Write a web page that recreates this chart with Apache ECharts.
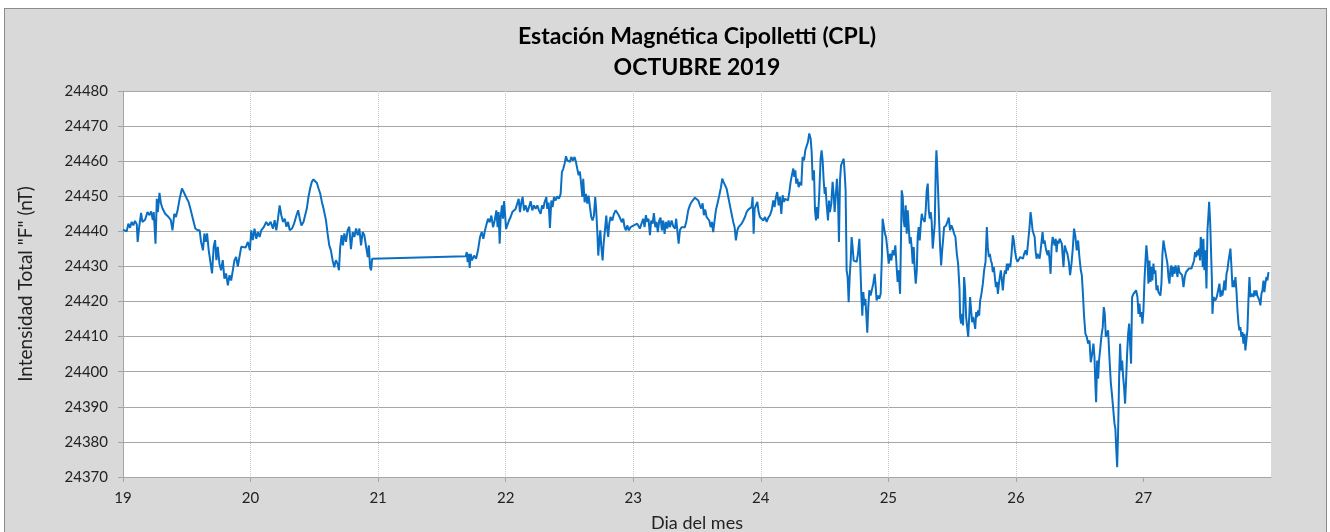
<!DOCTYPE html>
<html><head><meta charset="utf-8">
<script src="https://cdn.jsdelivr.net/npm/echarts@6/dist/echarts.min.js"></script>
<style>
html,body{margin:0;padding:0;background:#fff;}
#frame{position:absolute;left:4px;top:8px;width:1321px;height:540px;background:#d9d9d9;border:1px solid #8c8c8c;}
#c{position:absolute;left:0;top:0;width:1330px;height:532px;}
</style>
</head><body><div id="frame"></div><div id="c"></div>
<script>
const tituloLinea1 = 'Estación Magnética Cipolletti (CPL)';
const tituloLinea2 = 'OCTUBRE 2019';
const etiquetaY = 'Intensidad Total "F" (nT)';
const etiquetaX = 'Dia del mes';
const diasEje = [19, 20, 21, 22, 23, 24, 25, 26, 27];

const dia = [
19.000,19.029,19.042,19.055,19.068,19.081,19.094,19.108,19.115,19.126,19.142,19.152,19.173,19.192,19.207,19.220,19.234,19.241,19.255,19.265,
19.273,19.286,19.297,19.310,19.331,19.357,19.375,19.388,19.402,19.415,19.428,19.444,19.462,19.475,19.488,19.501,19.514,19.528,19.541,19.554,
19.567,19.585,19.601,19.612,19.627,19.638,19.648,19.659,19.672,19.685,19.698,19.711,19.722,19.732,19.743,19.756,19.769,19.782,19.795,19.808,
19.822,19.835,19.848,19.861,19.874,19.887,19.900,19.913,19.927,19.942,19.961,19.979,19.995,20.005,20.018,20.031,20.045,20.058,20.071,20.084,
20.105,20.123,20.139,20.157,20.176,20.189,20.202,20.215,20.228,20.241,20.255,20.268,20.281,20.294,20.307,20.325,20.341,20.360,20.373,20.386,
20.399,20.415,20.428,20.441,20.454,20.467,20.480,20.493,20.507,20.520,20.533,20.546,20.559,20.572,20.583,20.591,20.604,20.617,20.630,20.643,
20.656,20.669,20.682,20.693,20.703,20.714,20.724,20.735,20.748,20.761,20.774,20.787,20.801,20.814,20.827,20.840,20.853,20.866,20.879,20.892,
20.906,20.919,20.927,20.937,20.945,20.953,
21.687,21.695,21.702,21.710,21.718,21.726,21.736,21.752,21.768,21.783,21.799,21.812,21.825,21.838,21.851,21.862,21.875,21.888,21.901,21.914,
21.927,21.937,21.945,21.953,21.961,21.971,21.979,21.987,21.995,22.003,22.013,22.026,22.039,22.052,22.065,22.078,22.091,22.102,22.112,22.123,
22.133,22.144,22.157,22.170,22.183,22.196,22.209,22.222,22.235,22.248,22.261,22.274,22.285,22.295,22.305,22.319,22.326,22.337,22.347,22.358,
22.368,22.379,22.392,22.405,22.418,22.431,22.441,22.452,22.462,22.473,22.483,22.493,22.504,22.514,22.527,22.540,22.551,22.561,22.572,22.582,
22.593,22.601,22.608,22.619,22.629,22.640,22.650,22.661,22.671,22.681,22.692,22.702,22.710,22.718,22.726,22.734,22.742,22.749,22.760,22.768,
22.778,22.789,22.796,22.804,22.812,22.822,22.836,22.849,22.862,22.875,22.888,22.901,22.911,22.922,22.932,22.943,22.953,22.966,22.979,22.992,
23.005,23.018,23.031,23.044,
23.052,23.065,23.078,23.089,23.099,23.110,23.120,23.131,23.141,23.152,23.162,23.173,23.183,23.193,23.204,23.214,23.225,23.235,23.246,23.256,
23.267,23.277,23.288,23.301,23.314,23.327,23.337,23.348,23.356,23.366,23.379,23.392,23.405,23.418,23.431,23.444,23.458,23.471,23.484,23.497,
23.510,23.523,23.533,23.544,23.554,23.565,23.575,23.586,23.596,23.607,23.617,23.627,23.638,23.648,23.661,23.675,23.688,23.698,23.708,23.719,
23.732,23.745,23.758,23.771,23.784,23.795,23.805,23.816,23.826,23.837,23.850,23.863,23.876,23.889,23.902,23.915,23.928,23.936,23.944,23.952,
23.962,23.973,23.983,23.993,24.007,24.020,24.033,24.046,24.059,24.072,24.085,24.098,24.108,24.119,24.129,24.140,24.150,24.161,24.171,24.182,
24.192,24.203,24.213,24.224,24.234,24.244,24.255,24.263,24.271,24.278,24.286,24.297,24.307,24.318,24.328,24.339,24.349,24.359,24.370,24.380,
24.391,24.399,24.407,24.417,24.425,24.433,24.440,24.448,24.459,24.469,24.477,24.485,24.493,24.501,24.508,24.516,24.527,24.535,24.542,24.553,
24.563,24.571,24.579,24.590,24.597,24.605,24.613,24.621,24.629,24.639,24.650,24.658,24.665,24.673,24.681,24.689,24.697,24.705,24.712,24.720,
24.728,24.739,24.752,24.762,24.773,24.780,24.788,24.796,24.804,24.812,24.820,24.827,24.835,24.843,24.851,24.861,24.872,24.882,24.893,24.901,
24.908,24.919,24.929,24.940,24.950,
24.955,24.966,24.974,24.982,24.992,25.003,25.013,25.024,25.034,25.045,25.055,25.065,25.073,25.081,25.092,25.099,25.105,25.113,25.120,25.128,
25.136,25.144,25.152,25.160,25.168,25.175,25.183,25.191,25.199,25.207,25.215,25.223,25.230,25.238,25.246,25.254,25.262,25.270,25.277,25.285,
25.293,25.301,25.309,25.317,25.325,25.332,25.340,25.348,25.356,25.364,25.372,25.377,25.382,25.390,25.398,25.406,25.414,25.422,25.429,25.437,
25.445,25.453,25.463,25.474,25.484,25.495,25.505,25.516,25.526,25.537,25.547,25.558,25.563,25.571,25.579,25.586,25.594,25.602,25.610,25.618,
25.626,25.634,25.641,25.649,25.657,25.665,25.673,25.681,25.689,25.696,25.704,25.712,25.720,25.730,25.741,25.751,25.762,25.772,25.780,25.788,
25.796,25.804,25.812,25.819,25.827,25.835,25.843,25.851,25.859,25.867,25.874,25.882,25.890,25.898,25.906,25.914,25.922,25.929,25.937,25.945,
25.956,25.966,25.976,25.984,25.992,26.003,26.013,26.024,26.034,26.045,26.055,26.065,26.076,26.086,26.097,26.107,26.115,26.123,26.131,26.139,
26.147,26.154,26.162,26.170,26.178,26.186,26.194,26.202,26.209,26.217,26.225,26.233,26.241,26.249,26.257,26.264,26.272,26.280,26.288,26.296,
26.304,26.312,26.319,26.327,26.335,26.343,
26.360,26.373,26.383,26.394,26.404,26.415,26.425,26.436,26.446,26.456,26.467,26.477,26.488,26.498,26.509,26.517,26.524,26.535,26.545,26.556,
26.566,26.577,26.587,26.598,26.608,26.616,26.624,26.629,26.637,26.645,26.652,26.660,26.671,26.681,26.689,26.697,26.705,26.713,26.723,26.733,
26.744,26.754,26.765,26.773,26.780,26.786,26.794,26.801,26.809,26.817,26.825,26.833,26.841,26.848,26.856,26.864,26.872,26.880,26.888,26.895,
26.903,26.911,26.922,26.932,26.942,26.953,26.961,26.969,26.976,26.984,26.992,27.000,27.008,27.016,27.023,27.031,27.039,27.047,27.055,27.063,
27.070,27.078,27.086,27.094,27.102,27.110,27.117,27.125,27.133,27.141,27.149,27.157,27.165,27.172,27.180,27.188,27.196,27.204,27.212,27.219,
27.227,27.235,27.243,27.251,27.259,27.267,27.274,27.282,27.293,27.303,27.314,27.324,27.334,27.345,27.355,27.366,27.376,27.387,27.397,27.405,
27.413,27.421,27.429,27.436,27.444,27.449,27.457,27.465,27.470,27.478,27.486,27.494,27.502,27.510,27.515,27.523,27.531,27.536,27.541,27.549,
27.557,27.564,27.575,27.585,27.596,27.604,27.611,27.619,27.627,27.635,27.643,27.651,27.658,27.666,27.674,27.682,27.690,27.698,27.705,27.713,
27.721,27.729,27.737,27.745,27.752,27.760,27.768,27.776,27.784,27.792,27.799,27.807,27.815,27.823,27.831,27.839,27.846,27.854,27.862,27.870,
27.878,27.886,27.893,27.901,27.909,27.917,27.925,27.933,27.941,27.948,27.956,27.964,27.972,27.980
];

const campoF = [
24440.5,24440.0,24442.2,24441.0,24442.7,24441.7,24443.0,24442.0,24437.0,24441.0,24445.3,24442.7,24443.3,24445.5,24444.6,24445.7,24443.2,24445.5,24436.5,24449.3,
24445.5,24451.0,24448.0,24446.5,24445.0,24444.1,24443.2,24440.3,24445.0,24444.1,24446.0,24449.3,24452.2,24451.3,24451.7,24449.3,24448.4,24446.5,24444.6,24442.7,
24440.8,24440.3,24440.3,24437.0,24434.6,24439.4,24437.0,24439.4,24434.6,24431.3,24428.0,24435.6,24437.5,24431.8,24435.6,24430.8,24428.9,24431.8,24426.5,24428.0,
24424.6,24427.5,24426.0,24428.9,24431.8,24432.7,24430.0,24432.7,24435.6,24436.0,24435.4,24437.0,24434.6,24440.3,24437.5,24440.8,24437.9,24439.8,24438.4,24440.3,
24441.3,24442.7,24441.7,24442.7,24440.8,24443.2,24440.3,24443.6,24447.4,24444.6,24442.7,24443.6,24441.3,24442.7,24440.3,24440.8,24442.2,24444.6,24446.0,24443.6,
24441.7,24442.7,24444.6,24446.5,24449.8,24452.2,24454.1,24454.8,24454.6,24453.8,24452.2,24450.8,24448.4,24446.5,24447.0,24443.2,24439.4,24436.0,24434.6,24431.8,
24429.8,24431.8,24430.8,24428.9,24435.6,24438.9,24436.0,24439.4,24437.0,24440.3,24441.3,24434.9,24439.8,24438.4,24440.8,24438.9,24440.8,24436.0,24439.8,24438.9,
24435.6,24432.7,24436.0,24429.8,24428.9,24432.2,
24432.9,24434.1,24431.2,24433.6,24429.6,24433.6,24431.7,24433.1,24432.2,24434.6,24438.4,24439.8,24437.9,24440.3,24442.2,24443.6,24442.6,24444.5,24441.2,24443.1,
24446.0,24441.2,24445.5,24436.5,24444.1,24447.4,24443.6,24448.6,24445.0,24440.7,24441.2,24443.1,24444.1,24445.5,24445.0,24446.4,24446.0,24449.3,24445.5,24448.3,
24449.8,24446.0,24447.4,24445.5,24446.9,24448.6,24446.0,24447.4,24446.4,24447.4,24446.0,24445.0,24447.4,24446.4,24448.3,24449.8,24446.4,24448.2,24441.0,24448.8,
24446.9,24449.8,24448.8,24450.0,24449.3,24450.7,24456.9,24457.9,24459.3,24461.4,24460.2,24460.7,24459.8,24461.2,24460.2,24461.2,24459.8,24457.9,24456.0,24457.0,
24453.1,24449.8,24455.0,24448.3,24450.7,24447.9,24450.2,24446.9,24444.1,24443.1,24444.5,24449.8,24446.0,24440.3,24433.1,24437.4,24440.3,24436.0,24431.7,24436.5,
24440.3,24444.5,24440.7,24438.4,24442.2,24444.1,24443.1,24445.0,24446.0,24445.5,24444.5,24445.0,24442.6,24443.6,24441.2,24440.3,24441.7,24440.3,24441.2,24440.7,
24441.7,24441.2,24442.2,24441.4,
24440.8,24442.2,24443.6,24441.2,24444.6,24442.7,24443.6,24438.9,24443.1,24442.2,24445.2,24441.2,24442.7,24439.8,24443.1,24443.9,24440.3,24443.1,24439.3,24442.7,
24440.8,24443.1,24441.2,24443.1,24441.4,24440.8,24443.6,24439.3,24436.5,24440.3,24441.2,24440.8,24441.2,24443.1,24446.0,24447.4,24448.4,24448.8,24449.6,24449.8,
24448.8,24447.4,24446.5,24448.0,24444.6,24446.2,24444.1,24444.6,24443.1,24441.2,24442.7,24439.8,24443.1,24446.0,24448.0,24450.3,24452.6,24455.0,24454.1,24453.6,
24452.2,24449.8,24447.4,24445.0,24442.7,24441.2,24437.4,24440.3,24441.2,24441.7,24442.2,24443.1,24444.1,24445.5,24446.2,24446.0,24446.9,24449.8,24439.3,24446.5,
24446.0,24448.4,24445.5,24444.1,24444.6,24443.1,24444.1,24442.7,24443.9,24444.6,24446.0,24448.8,24446.9,24449.8,24451.2,24447.4,24449.8,24445.0,24450.3,24448.4,
24449.3,24449.8,24448.8,24451.2,24454.1,24456.0,24457.9,24455.5,24457.4,24453.6,24455.0,24452.6,24454.1,24453.1,24461.2,24460.2,24463.1,24462.6,24465.5,24467.9,
24466.4,24462.6,24454.5,24457.4,24446.0,24443.1,24446.9,24443.6,24451.2,24460.7,24463.1,24460.2,24454.5,24450.7,24452.6,24447.9,24443.1,24448.8,24445.5,24447.9,
24454.1,24450.7,24445.5,24451.2,24455.0,24449.8,24437.0,24454.5,24458.8,24458.3,24460.7,24456.4,24451.7,24428.9,24427.0,24419.8,24427.0,24431.7,24438.4,24435.5,
24431.7,24431.3,24431.3,24433.6,24437.9,24430.8,24422.2,24416.0,24422.7,24418.9,24420.8,24416.5,24411.1,24418.4,24423.2,24421.7,24422.2,24425.1,24427.9,24424.1,
24420.3,24421.7,24420.8,24422.2,24433.6,
24443.6,24443.1,24439.3,24438.4,24435.1,24430.8,24433.6,24431.7,24434.6,24433.2,24436.0,24429.8,24425.6,24428.9,24422.2,24437.4,24451.7,24449.8,24443.1,24441.2,
24447.4,24439.3,24446.0,24446.5,24436.5,24438.4,24435.5,24430.8,24435.5,24428.9,24425.1,24428.9,24438.4,24441.2,24437.4,24441.7,24445.0,24443.6,24444.1,24442.7,
24446.0,24451.7,24453.6,24446.0,24443.6,24445.5,24442.7,24435.1,24435.5,24442.2,24458.3,24463.1,24459.3,24451.7,24443.1,24435.5,24430.3,24434.6,24437.4,24441.2,
24440.8,24441.7,24442.7,24443.9,24440.3,24441.7,24440.8,24439.3,24438.4,24433.6,24430.8,24423.6,24415.6,24413.7,24416.5,24413.2,24427.0,24423.2,24415.6,24412.7,
24409.9,24415.6,24421.3,24417.5,24414.1,24415.6,24414.1,24412.2,24417.0,24415.6,24417.5,24416.0,24420.3,24422.2,24425.1,24428.9,24431.3,24441.2,24435.5,24432.7,
24433.6,24431.7,24430.8,24428.4,24429.8,24427.0,24424.1,24425.6,24422.2,24425.1,24427.0,24428.9,24426.0,24423.2,24427.0,24428.9,24427.9,24430.8,24428.9,24430.8,
24429.8,24433.6,24438.9,24437.4,24434.6,24432.2,24431.3,24431.7,24432.7,24433.2,24432.2,24433.6,24434.6,24433.2,24437.4,24441.2,24445.5,24443.1,24440.3,24439.3,
24438.4,24434.6,24432.2,24433.6,24433.2,24432.2,24434.6,24437.4,24439.8,24436.5,24437.4,24435.5,24434.1,24433.2,24434.6,24431.7,24427.9,24435.5,24438.4,24438.9,
24436.0,24437.9,24434.1,24437.4,24436.5,24437.9,
24436.5,24429.8,24436.0,24434.6,24433.6,24431.3,24427.5,24430.8,24435.1,24440.8,24438.4,24434.6,24437.4,24432.7,24428.9,24427.5,24423.2,24415.6,24410.8,24409.9,
24408.0,24408.9,24402.7,24405.1,24408.0,24404.2,24395.6,24391.3,24403.2,24398.0,24403.2,24406.1,24410.3,24412.7,24418.4,24416.5,24409.9,24410.8,24411.8,24404.2,
24397.0,24393.2,24392.8,24385.2,24383.7,24378.5,24372.8,24382.3,24397.5,24408.0,24400.4,24403.2,24398.5,24395.6,24390.9,24397.5,24405.1,24410.8,24413.7,24408.0,
24402.3,24421.3,24422.2,24421.7,24423.2,24421.3,24416.5,24419.4,24415.6,24417.0,24413.7,24417.5,24426.0,24431.7,24436.0,24432.7,24425.1,24431.7,24425.6,24429.8,
24426.0,24430.8,24427.9,24428.9,24423.2,24424.6,24422.7,24423.2,24421.7,24425.1,24433.6,24437.4,24435.5,24434.1,24433.6,24430.8,24427.0,24425.1,24429.4,24430.3,
24427.0,24429.8,24427.9,24430.3,24428.9,24427.0,24430.3,24428.4,24428.9,24427.5,24424.1,24427.0,24428.4,24428.9,24429.4,24428.9,24429.4,24429.8,24431.7,24434.1,
24432.7,24434.6,24433.2,24435.1,24431.7,24438.4,24436.5,24429.8,24437.9,24428.9,24434.6,24423.7,24440.3,24445.0,24448.4,24442.7,24442.2,24427.0,24416.5,24421.3,
24420.8,24420.3,24421.3,24421.7,24425.1,24421.3,24423.2,24421.7,24423.7,24426.0,24423.2,24427.9,24428.9,24431.3,24433.2,24435.1,24429.8,24424.1,24426.0,24424.1,
24427.0,24423.2,24417.5,24413.7,24411.8,24412.7,24409.9,24411.3,24408.0,24410.8,24406.1,24408.9,24411.8,24420.3,24427.0,24421.3,24421.7,24422.2,24421.3,24423.2,
24421.7,24423.2,24421.7,24422.2,24420.3,24418.9,24422.2,24423.2,24426.0,24422.7,24425.1,24427.0,24426.0,24428.4
];

const serie = dia.map((d, i) => [d, campoF[i]]);
const fuente = 'Lato, "Open Sans", sans-serif';

const chart = echarts.init(document.getElementById('c'), null, { renderer: 'canvas' });
chart.setOption({
  animation: false,
  backgroundColor: 'transparent',
  title: {
    text: tituloLinea1 + '\n' + tituloLinea2,
    left: 692,
    top: 16,
    textAlign: 'center',
    textStyle: { fontFamily: fuente, fontSize: 23, fontWeight: 'bold', color: '#000', lineHeight: 31 }
  },
  grid: { left: 123, right: 59, top: 91, bottom: 55, show: true, backgroundColor: '#fff', borderWidth: 0,
          outerBoundsMode: 'none', containLabel: false },
  xAxis: {
    type: 'value', min: 19, max: 28, interval: 1,
    name: etiquetaX, nameLocation: 'middle', nameGap: 37,
    nameTextStyle: { fontFamily: fuente, fontSize: 18, color: '#222' },
    axisLine: { show: true, lineStyle: { color: '#a6a6a6', width: 1 } },
    axisTick: { show: true, length: 5, customValues: diasEje, lineStyle: { color: '#a6a6a6' } },
    axisLabel: { fontFamily: fuente, fontSize: 15, color: '#222', margin: 14,
      formatter: v => (diasEje.indexOf(v) >= 0 ? String(v) : '') },
    splitLine: { show: true, showMinLine: false, showMaxLine: false, lineStyle: { type: 'dotted', color: '#c8c8c8', width: 1 } }
  },
  yAxis: {
    type: 'value', min: 24370, max: 24480, interval: 10,
    name: etiquetaY, nameLocation: 'middle', nameGap: 88, nameRotate: 90,
    nameTextStyle: { fontFamily: fuente, fontSize: 19, color: '#222' },
    axisLine: { show: true, lineStyle: { color: '#a6a6a6', width: 1 } },
    axisTick: { show: true, length: 5, lineStyle: { color: '#a6a6a6' } },
    axisLabel: { fontFamily: fuente, fontSize: 15, color: '#222', margin: 15, formatter: v => String(v) },
    splitLine: { show: true, lineStyle: { type: 'solid', color: '#a6a6a6', width: 1 } }
  },
  series: [{
    type: 'line',
    data: serie,
    showSymbol: false,
    symbol: 'none',
    lineStyle: { color: '#0a6fc2', width: 2 },
    itemStyle: { color: '#0a6fc2' }
  }]
});
</script>
</body></html>
